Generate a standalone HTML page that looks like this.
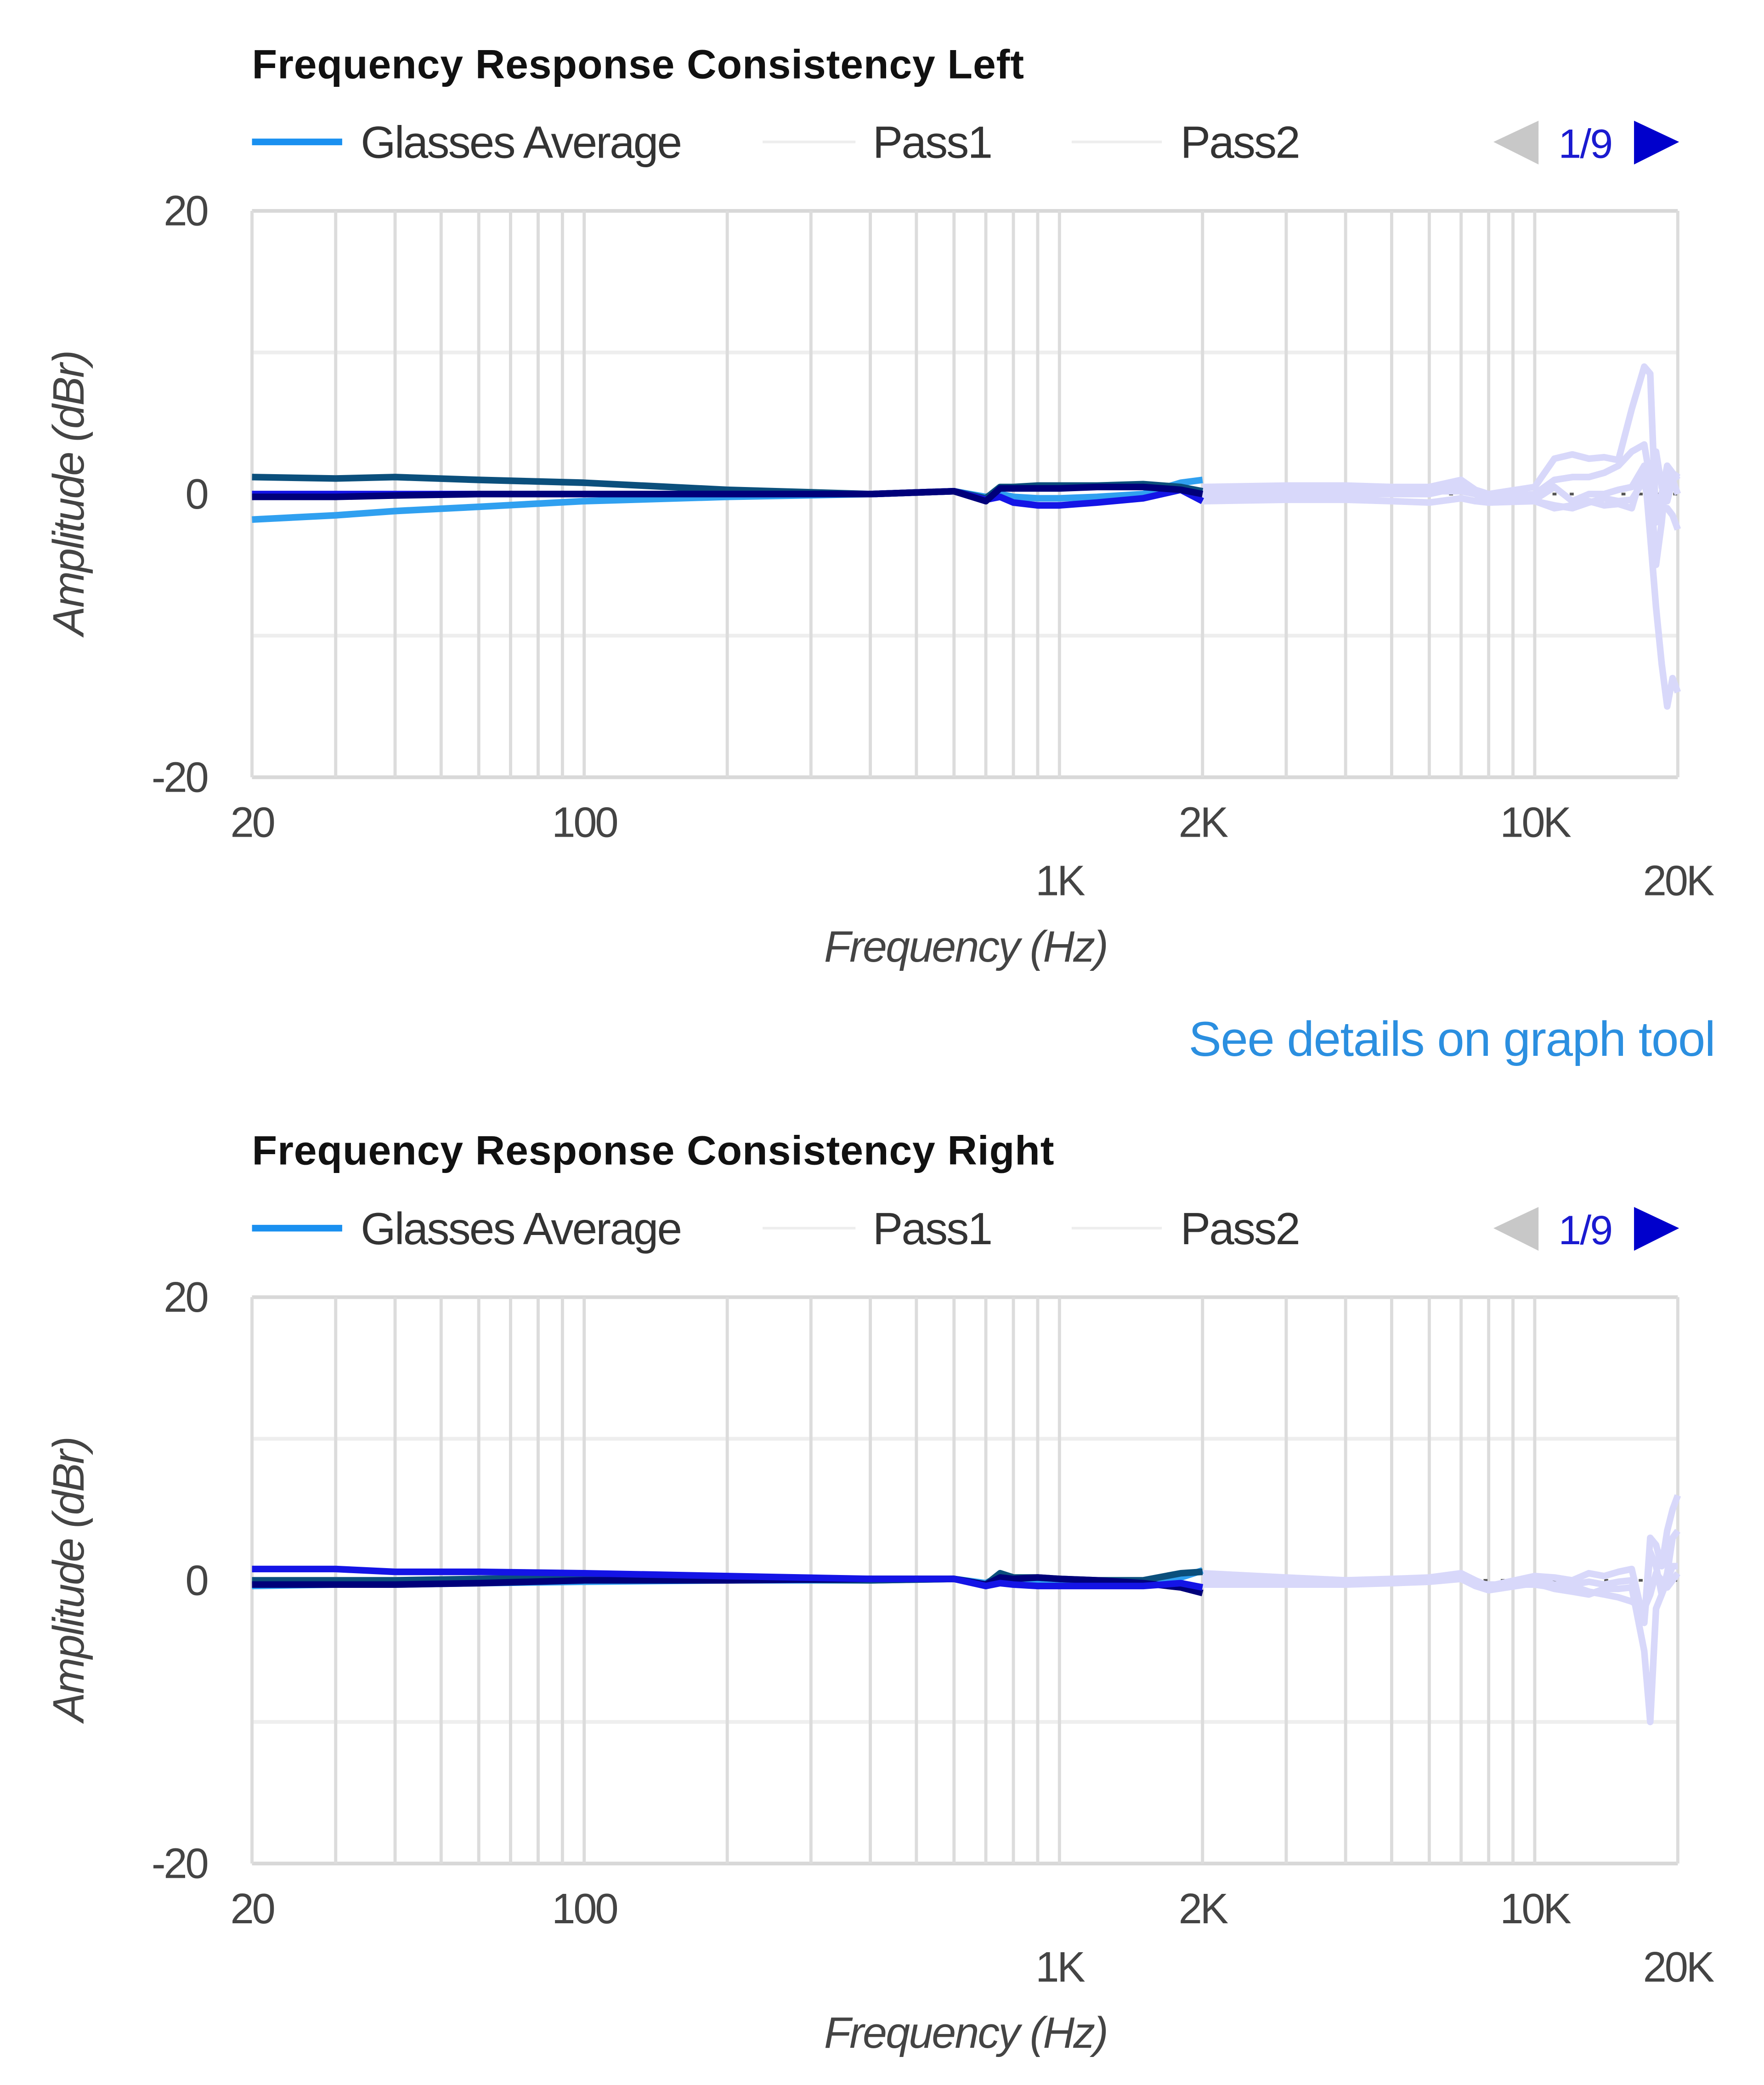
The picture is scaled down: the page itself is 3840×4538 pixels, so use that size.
<!DOCTYPE html>
<html><head><meta charset="utf-8"><style>
html,body{margin:0;padding:0;background:#fff;}
svg{display:block;}
text{font-family:"Liberation Sans",Arial,sans-serif;}
</style></head><body>
<svg id="root" width="3840" height="4538" viewBox="0 0 1330 1572" preserveAspectRatio="none" xmlns="http://www.w3.org/2000/svg"></svg>
<script>
// ---- data ----
const xTicksRow1 = [20, 100, 2000, 10000];
const xTickLabelsRow1 = ["20", "100", "2K", "10K"];
const xTicksRow2 = [1000, 20000];
const xTickLabelsRow2 = ["1K", "20K"];
const yTicks = [20, 10, 0, -10, -20];
const yTickLabels = ["20", "", "0", "", "-20"];
const gridFreqs = [30,40,50,60,70,80,90,100,200,300,400,500,600,700,800,900,1000,2000,3000,4000,5000,6000,7000,8000,9000,10000];

const lowFreqs = [20,30,40,60,100,200,400,600,700,750,800,900,1000,1200,1500,1800,2000];
const highFreqs = [2000,3000,4000,5000,6000,7000,7500,8000,10000,11000,12000,13000,14000,15000,16000,17000,17500,18000,18500,19000,19500,20000];

// Left chart series
const leftTeal  = [1.2,1.1,1.2,1.0,0.8,0.3,0.0,0.2,-0.3,0.5,0.5,0.6,0.6,0.6,0.7,0.5,0.2];
const leftLight = [-1.8,-1.5,-1.2,-0.9,-0.5,-0.2,0.0,0.2,-0.2,0.0,-0.2,-0.3,-0.3,-0.2,0.0,0.8,1.0];
const leftBlue  = [0.0,0.0,0.0,0.0,0.0,0.0,0.0,0.2,-0.4,-0.2,-0.6,-0.8,-0.8,-0.6,-0.3,0.3,-0.5];
const leftNavy  = [-0.2,-0.2,-0.1,0.0,0.0,0.0,0.0,0.2,-0.5,0.4,0.4,0.4,0.4,0.5,0.5,0.3,0.0];
const leftL1 = [0.5,0.6,0.6,0.5,0.5,1.0,0.3,0.0,0.5,2.5,2.8,2.5,2.6,2.4,6.0,9.0,8.5,-2.0,0.0,2.0,1.5,1.0];
const leftL2 = [0.0,0.3,0.3,0.3,0.3,0.8,0.2,-0.3,0.0,1.0,1.2,1.2,1.5,2.0,3.0,3.5,1.0,-5.0,-2.0,2.0,1.0,0.0];
const leftL3 = [-0.3,0.0,0.0,0.0,0.0,0.5,0.0,-0.5,-0.4,0.5,-0.5,0.0,0.0,0.3,0.5,2.0,-3.0,-8.0,-12.0,-15.0,-13.0,-14.0];
const leftL4 = [0.3,0.2,0.2,0.2,0.2,0.2,0.0,-0.3,-0.5,-1.0,-0.8,-0.5,-0.8,-0.7,-1.0,2.0,0.5,-1.0,-1.0,-1.0,-1.5,-2.5];
const leftL5 = [-0.5,-0.4,-0.4,-0.5,-0.6,-0.3,-0.5,-0.6,-0.5,-0.8,-1.0,-0.6,-0.3,-0.5,-0.4,1.0,-1.5,3.0,0.5,-0.5,1.0,1.5];

// Right chart series
const rightTeal  = [0.0,0.0,0.0,0.1,0.2,0.1,0.0,0.1,-0.3,0.5,0.2,0.2,0.1,0.0,0.0,0.5,0.6];
const rightLight = [-0.4,-0.3,-0.3,-0.2,-0.1,0.0,0.0,0.1,-0.2,0.3,0.0,0.0,-0.2,-0.3,-0.2,0.2,0.7];
const rightBlue  = [0.8,0.8,0.6,0.6,0.5,0.3,0.1,0.1,-0.4,-0.2,-0.3,-0.4,-0.4,-0.4,-0.4,-0.2,-0.5];
const rightNavy  = [-0.3,-0.3,-0.3,-0.2,0.0,0.0,0.1,0.1,-0.3,0.2,0.1,0.2,0.1,0.0,-0.2,-0.5,-0.9];
const rightL1 = [0.5,0.2,0.0,0.1,0.2,0.5,0.0,-0.4,0.3,0.2,0.0,0.5,0.3,0.6,0.8,-3.0,3.0,2.5,1.0,3.5,5.0,6.0];
const rightL2 = [0.0,-0.2,-0.2,-0.1,0.0,0.3,-0.2,-0.5,0.0,-0.3,-0.3,-0.1,-0.3,-0.1,0.0,-3.0,2.0,1.0,-1.0,0.5,3.0,3.5];
const rightL3 = [-0.3,-0.3,-0.3,-0.2,-0.1,0.1,-0.4,-0.7,-0.2,-0.6,-0.8,-1.0,-0.6,-0.6,-0.5,-5.0,-10.0,-2.0,-1.0,0.0,1.0,1.0];
const rightL4 = [0.2,0.1,0.0,0.0,0.0,0.2,-0.2,-0.3,-0.3,-0.5,-0.4,-0.8,-1.0,-1.2,-1.5,-2.0,-1.0,0.5,0.0,-0.5,0.0,0.5];

// ---- drawing ----
const NS = "http://www.w3.org/2000/svg";
const root = document.getElementById("root");
const PL = 190, PR = 1265;
function xScale(f){ return PL + (Math.log10(f/20)/3) * (PR-PL); }
function mk(tag, attrs, parent){
  const e = document.createElementNS(NS, tag);
  for (const k in attrs) e.setAttribute(k, attrs[k]);
  (parent||root).appendChild(e);
  return e;
}
function pathFor(freqs, vals, yScale){
  return freqs.map((f,i)=>(i?"L":"M")+xScale(f).toFixed(2)+" "+yScale(vals[i]).toFixed(2)).join(" ");
}

function drawChart(off, title, lows, highs, key){
  const top = 159+off, bot = 586+off;
  const yScale = v => top + (20 - v)/40 * (bot-top);
  const g = mk("g", {});
  
  

  const t = mk("text", {x:190, y:59+off, "font-size":31, "font-weight":"bold", fill:"#111", "letter-spacing":"0.3"}, g);
  t.textContent = title;
  
  

  // legend
  const lg = mk("g", {}, g);
  
  
  const items = [[190,258,"#1a90f0",5,272,"Glasses Average"],[575,645,"#eeeeee",2,658,"Pass1"],[808,876,"#eeeeee",2,890,"Pass2"]];
  items.forEach(it=>{
    const e = mk("g", {}, lg);
    
    
    mk("line", {x1:it[0], x2:it[1], y1:107+off, y2:107+off, stroke:it[2], "stroke-width":it[3]}, e);
    const tx = mk("text", {x:it[4], y:119+off, "font-size":34, fill:"#333", "letter-spacing":"-1"}, e);
    tx.textContent = it[5];
  });
  const pl = mk("polygon", {points:`1160,${91+off} 1160,${124+off} 1126,${107+off}`, fill:"#c8c8c8"}, lg);
  
  
  const pg = mk("text", {x:1175, y:119+off, "font-size":31, fill:"#1a1ad0", "letter-spacing":"-1"}, lg);
  pg.textContent = "1/9";
  
  
  const nx = mk("polygon", {points:`1232,${91+off} 1232,${124+off} 1266,${107+off}`, fill:"#0000cc"}, lg);
  
  

  // grid
  const gr = mk("g", {stroke:"#dcdcdc", "stroke-width":2.4}, g);
  
  
  yTicks.forEach(v=>{
    const c = (v===20||v===-20) ? "#d8d8d8" : "#eeeeee";
    mk("line", {x1:PL, x2:PR, y1:yScale(v), y2:yScale(v), stroke:c, "stroke-width":v===0?0:2.8}, gr);
  });
  gridFreqs.concat([20,20000]).forEach(f=>{
    mk("line", {x1:xScale(f), x2:xScale(f), y1:top, y2:bot}, gr);
  });

  // y ticks
  yTicks.forEach((v,i)=>{
    if(!yTickLabels[i]) return;
    const tx = mk("text", {x:156, y:yScale(v)+11, "font-size":32, fill:"#444", "text-anchor":"end", "letter-spacing":"-1.5"}, g);
    tx.textContent = yTickLabels[i];
    
    
  });
  // x ticks
  xTicksRow1.forEach((f,i)=>{
    const tx = mk("text", {x:xScale(f), y:631+off, "font-size":32, fill:"#444", "text-anchor":"middle", "letter-spacing":"-1.5"}, g);
    tx.textContent = xTickLabelsRow1[i];
    
    
  });
  xTicksRow2.forEach((f,i)=>{
    const tx = mk("text", {x:xScale(f), y:675+off, "font-size":32, fill:"#444", "text-anchor":"middle", "letter-spacing":"-1.5"}, g);
    tx.textContent = xTickLabelsRow2[i];
    
    
  });
  const xt = mk("text", {x:728, y:725+off, "font-size":33, fill:"#444", "font-style":"italic", "text-anchor":"middle", "letter-spacing":"-1"}, g);
  xt.textContent = "Frequency (Hz)";
  
  
  const yt = mk("text", {x:0, y:0, "font-size":33, fill:"#444", "font-style":"italic", "text-anchor":"middle", "letter-spacing":"-1", transform:`translate(63,${372+off}) rotate(-90)`}, g);
  yt.textContent = "Amplitude (dBr)";
  
  

  // dotted zero reference
  const zr = mk("path", {d:pathFor([4000,20000],[0,0],yScale), stroke:"#555", "stroke-width":2, "stroke-dasharray":"3 10", fill:"none"}, g);
  
  

  highs.forEach(vals=>{
    const p = mk("path", {d:pathFor(highFreqs, vals, yScale), stroke:"#d8d8fa", "stroke-width":5, fill:"none", "stroke-linejoin":"round"}, g);
    
    
  });
  lows.forEach(s=>{
    const p = mk("path", {d:pathFor(lowFreqs, s[0], yScale), stroke:s[1], "stroke-width":5, fill:"none", "stroke-linejoin":"round"}, g);
    
    
  });
}

drawChart(0, "Frequency Response Consistency Left",
  [[leftLight,"#30a0f0"],[leftTeal,"#0b4f7c"],[leftBlue,"#1414e6"],[leftNavy,"#00007a"]],
  [leftL1,leftL2,leftL3,leftL4,leftL5], "left");
drawChart(819, "Frequency Response Consistency Right",
  [[rightLight,"#30a0f0"],[rightTeal,"#0b4f7c"],[rightNavy,"#00007a"],[rightBlue,"#1414e6"]],
  [rightL1,rightL2,rightL3,rightL4], "right");

const link = mk("text", {x:1293, y:796, "font-size":37, fill:"#2b8fe0", "text-anchor":"end", "letter-spacing":"-0.5"});
link.textContent = "See details on graph tool";


</script>
</body></html>
